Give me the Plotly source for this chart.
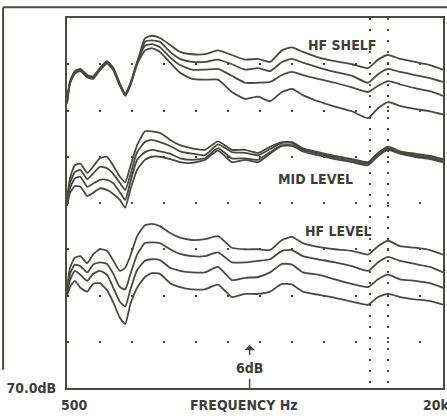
import math
import plotly.graph_objects as go

# ---- data -------------------------------------------------------------
freq_hz = [500, 515, 540, 570, 610, 645, 690, 740, 785, 840, 885, 930, 995,
           1075, 1150, 1245, 1375, 1515, 1705, 1935, 2200, 2520, 2870, 3260,
           3665, 4120, 4550, 5060, 5870, 6930, 8190, 9580, 10570, 11660,
           13120, 15190, 17600, 20000]

hf_shelf_1 = [107.1, 109.7, 111.0, 111.3, 110.5, 110.3, 111.4, 112.3, 111.5, 109.4, 108.1, 109.4, 112.2,
              115.4, 115.7, 115.4, 114.5, 113.6, 113.3, 113.3, 113.8, 113.2, 112.6, 112.7, 112.3, 113.8,
              114.2, 113.6, 112.9, 112.4, 112.0, 111.5, 112.6, 113.2, 112.7, 112.3, 111.9, 111.3]
hf_shelf_2 = [107.0, 109.6, 110.9, 111.2, 110.4, 110.2, 111.3, 112.2, 111.4, 109.3, 108.0, 109.3, 112.1,
              114.9, 115.1, 114.9, 113.6, 112.7, 112.3, 112.3, 112.6, 112.0, 111.3, 111.5, 111.1, 112.3,
              112.7, 112.2, 111.6, 111.0, 110.5, 109.6, 110.7, 111.4, 111.0, 110.6, 110.2, 109.7]
hf_shelf_3 = [107.2, 109.8, 111.1, 111.4, 110.6, 110.4, 111.5, 112.4, 111.6, 109.5, 108.2, 109.5, 112.3,
              114.4, 114.6, 114.2, 112.9, 111.9, 111.3, 111.3, 111.4, 110.5, 109.6, 109.6, 109.7, 110.6,
              111.0, 110.6, 110.1, 109.6, 109.0, 108.4, 109.2, 109.8, 109.4, 108.9, 108.5, 107.9]
hf_shelf_4 = [106.9, 109.5, 110.8, 111.1, 110.3, 110.1, 111.2, 112.1, 111.3, 109.2, 107.9, 109.2, 112.0,
              113.8, 114.1, 113.6, 112.2, 110.9, 110.1, 110.0, 110.0, 108.4, 107.5, 107.8, 107.2, 108.4,
              108.8, 108.0, 107.2, 106.5, 105.9, 105.0, 106.3, 107.1, 106.6, 106.2, 105.9, 105.5]

mid_level_1 = [94.4, 97.2, 98.9, 99.1, 97.9, 98.7, 99.8, 100.0, 98.9, 97.4, 96.7, 98.7, 101.5,
               103.3, 103.3, 103.1, 102.2, 101.5, 101.1, 100.9, 102.0, 100.9, 100.9, 100.5, 101.3, 101.9,
               101.9, 101.1, 100.6, 100.1, 99.7, 99.3, 100.5, 101.3, 100.7, 100.4, 100.1, 99.7]
mid_level_2 = [94.1, 96.6, 98.0, 98.3, 97.1, 97.8, 98.7, 98.5, 97.8, 96.6, 95.7, 97.6, 100.6,
               101.9, 102.2, 101.9, 101.4, 100.7, 100.4, 100.2, 101.6, 100.6, 100.5, 100.2, 101.0, 101.8,
               101.8, 101.0, 100.5, 100.0, 99.6, 99.2, 100.4, 101.1, 100.6, 100.2, 100.0, 99.6]
mid_level_3 = [93.9, 95.9, 97.2, 97.4, 96.1, 96.5, 97.0, 97.0, 96.6, 95.4, 94.4, 96.7, 99.6,
               100.6, 100.9, 100.7, 100.4, 99.8, 99.6, 99.8, 101.1, 99.8, 99.8, 99.6, 100.6, 101.5,
               101.5, 100.9, 100.4, 99.8, 99.4, 99.1, 100.2, 101.0, 100.5, 100.1, 99.8, 99.4]
mid_level_4 = [93.6, 95.3, 96.2, 96.1, 94.9, 95.3, 95.9, 95.7, 95.2, 94.4, 93.4, 95.7, 98.3,
               99.6, 100.0, 100.0, 99.7, 99.3, 99.2, 99.6, 100.8, 99.3, 99.6, 99.3, 100.4, 101.4,
               101.4, 100.7, 100.2, 99.7, 99.3, 98.9, 100.1, 100.9, 100.4, 100.0, 99.7, 99.3]

hf_level_1 = [82.7, 85.6, 86.9, 87.1, 86.2, 87.3, 88.0, 87.8, 86.6, 85.2, 85.6, 87.1, 89.7,
              91.1, 91.3, 91.0, 90.1, 89.5, 89.2, 89.3, 89.7, 88.2, 88.0, 88.0, 87.9, 89.2,
              89.6, 88.8, 88.3, 88.0, 87.8, 87.3, 88.4, 89.1, 88.4, 88.2, 87.9, 87.3]
hf_level_2 = [82.5, 84.8, 86.0, 85.8, 85.0, 86.0, 86.3, 86.1, 84.9, 83.1, 82.8, 84.7, 87.3,
              88.8, 88.9, 88.8, 88.0, 87.4, 87.1, 87.1, 87.6, 86.3, 86.3, 86.5, 86.7, 87.8,
              87.9, 87.1, 86.7, 86.3, 85.8, 85.2, 86.3, 87.0, 86.5, 86.1, 85.7, 85.0]
hf_level_3 = [82.2, 84.0, 85.2, 84.7, 83.9, 84.8, 85.2, 84.7, 83.1, 81.2, 80.6, 82.7, 85.3,
              86.5, 86.7, 86.6, 85.6, 85.2, 85.0, 85.0, 85.7, 84.0, 84.3, 84.4, 85.0, 86.1,
              86.0, 85.0, 84.7, 84.1, 83.5, 83.1, 84.1, 84.7, 84.1, 83.9, 83.6, 83.0]
hf_level_4 = [81.9, 83.1, 83.9, 83.0, 82.5, 83.5, 83.6, 82.7, 81.2, 79.1, 78.3, 80.8, 83.0,
              84.4, 84.9, 84.8, 83.6, 83.1, 82.8, 82.8, 83.4, 81.8, 82.2, 82.2, 82.5, 83.5,
              83.4, 82.5, 82.1, 81.7, 81.2, 80.8, 81.8, 82.2, 81.8, 81.5, 81.3, 80.8]

curves = [hf_shelf_1, hf_shelf_2, hf_shelf_3, hf_shelf_4,
          mid_level_1, mid_level_2, mid_level_3, mid_level_4,
          hf_level_1, hf_level_2, hf_level_3, hf_level_4]

group_labels = ["HF SHELF", "MID LEVEL", "HF LEVEL"]
y_tick_vals = [70, 76, 82, 88, 94, 100, 106, 112]
y_tick_text = ["70.0dB", "", "", "", "", "", "", ""]
marker_freqs = [9800, 11700]
x_range = [500, 20000]
x_labels = ["500", "FREQUENCY Hz", "20k"]
scale_freq = 3000
scale_label = "6dB"

# ---- styling -----------------------------------------------------------
INK = "#4a4a45"
FONT = dict(family="Liberation Sans Narrow, DejaVu Sans Condensed, Roboto, sans-serif",
            size=14, color="#3e3e3a", weight="bold")

fig = go.Figure()
for ys in curves:
    fig.add_trace(go.Scatter(x=freq_hz, y=ys, mode="lines",
                             line=dict(color=INK, width=1.8, shape="spline", smoothing=0.5),
                             hoverinfo="skip", showlegend=False))

annotations = [
    dict(text=group_labels[0], xref="paper", yref="paper", x=0.731, y=0.927),
    dict(text=group_labels[1], xref="paper", yref="paper", x=0.662, y=0.565),
    dict(text=group_labels[2], xref="paper", yref="paper", x=0.723, y=0.424),
    dict(text=x_labels[0], xref="paper", yref="paper", x=0.019, y=-0.045),
    dict(text=x_labels[1], xref="paper", yref="paper", x=0.471, y=-0.047),
    dict(text=x_labels[2], xref="paper", yref="paper", x=0.982, y=-0.045),
    dict(text=scale_label, xref="x", yref="y", x=math.log10(scale_freq), y=72.6),
]
for a in annotations:
    a.update(showarrow=False, font=FONT, xanchor="center", yanchor="middle")

# 6 dB scale arrows
annotations.append(dict(text="", xref="x", yref="y", axref="x", ayref="y",
                        x=math.log10(scale_freq), y=75.6, ax=math.log10(scale_freq), ay=74.1,
                        showarrow=True, arrowhead=1, arrowsize=1.2, arrowwidth=1.5, arrowcolor=INK))
annotations.append(dict(text="", xref="x", yref="y", axref="x", ayref="y",
                        x=math.log10(scale_freq), y=70.0, ax=math.log10(scale_freq), ay=71.4,
                        showarrow=True, arrowhead=0, arrowwidth=1.5, arrowcolor=INK))

shapes = [
    dict(type="line", xref="paper", yref="paper", x0=-0.170, y0=1.029, x1=1.02, y1=1.029,
         line=dict(color=INK, width=2), layer="above"),
    dict(type="line", xref="paper", yref="paper", x0=-0.170, y0=1.029, x1=-0.170, y1=0.049,
         line=dict(color=INK, width=2), layer="above"),
]

fig.update_layout(
    width=447, height=419,
    margin=dict(l=67, r=4, t=18, b=31),
    paper_bgcolor="white", plot_bgcolor="white",
    annotations=annotations, shapes=shapes,
    xaxis=dict(type="log", range=[math.log10(x_range[0]), math.log10(x_range[1])],
               tickvals=marker_freqs, showticklabels=False, ticks="", automargin=False,
               showgrid=True, gridcolor=INK, gridwidth=1.5, griddash="2px,9px",
               showline=True, mirror=True, linecolor=INK, linewidth=2, zeroline=False),
    yaxis=dict(range=[70, 118], tickvals=y_tick_vals, ticktext=y_tick_text, ticks="",
               ticklabelstandoff=6, tickfont=FONT, automargin=False,
               showgrid=True, gridcolor=INK, gridwidth=1.5, griddash="2px,30px",
               showline=True, mirror=True, linecolor=INK, linewidth=2, zeroline=False),
)

fig.write_html("out.html", config={"displayModeBar": False},
               post_script="document.body.style.margin='0';")
